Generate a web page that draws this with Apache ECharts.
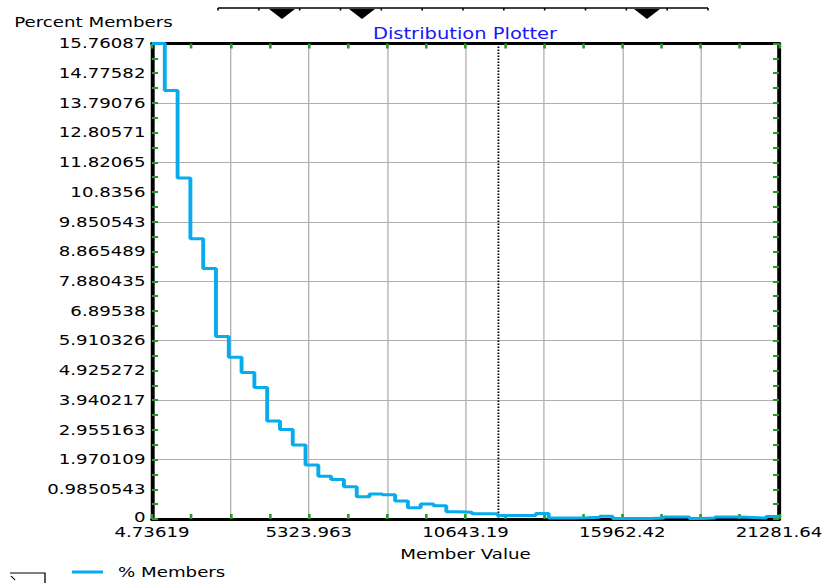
<!DOCTYPE html>
<html><head><meta charset="utf-8">
<script src="https://cdn.jsdelivr.net/npm/echarts@6/dist/echarts.min.js"></script>
<style>
html,body{margin:0;padding:0;background:#fff;overflow:hidden;}
#wrap{width:824px;height:583px;overflow:hidden;position:relative;}
#chart{width:634px;height:583px;transform:scaleX(1.29968);transform-origin:0 0;}
</style></head><body><div id="wrap"><div id="chart"></div></div>
<script>
// ---- data ----
const xTickLabels = ['4.73619', '5323.963', '10643.19', '15962.42', '21281.64'];
const yTickLabels = ['0', '0.9850543', '1.970109', '2.955163', '3.940217', '4.925272', '5.910326',
  '6.89538', '7.880435', '8.865489', '9.850543', '10.8356', '11.82065', '12.80571', '13.79076',
  '14.77582', '15.76087'];
// percent of members per bin (49 equal-width bins between xMin and xMax)
const binValues = [15.76087, 14.2, 11.3, 9.29, 8.3, 6.05, 5.36, 4.86, 4.36, 3.25,
  2.97, 2.45, 1.79, 1.42, 1.31, 1.07, 0.74, 0.83, 0.80, 0.60,
  0.37, 0.50, 0.44, 0.24, 0.22, 0.17, 0.17, 0.12, 0.12, 0.12,
  0.18, 0.03, 0.03, 0.04, 0.06, 0.09, 0.02, 0.02, 0.02, 0.03,
  0.07, 0.07, 0.02, 0.03, 0.07, 0.07, 0.05, 0.03, 0.08];
const xMin = 4.73619, xMax = 21281.64, yMax = 15.76087;
const markerX = 11728;               // dotted vertical marker
const seriesName = '% Members';
const titleText = 'Distribution Plotter';
const xName = 'Member Value';
const yName = 'Percent Members';

// ---- layout helpers ----
const S = 824 / 634;                 // horizontal stretch of the whole picture
const X = v => v / S;                // reference px -> chart px
const FONT = 'DejaVu Sans';
const GREEN = '#2a9a2a', GRAY = '#afafaf', BLUE = '#08aceb', INK = '#000';

const xRange = xMax - xMin;
const xStep = xRange / (xTickLabels.length - 1);
const yStep = yMax / (yTickLabels.length - 1);
const binW = xRange / binValues.length;

const points = binValues.map((v, i) => [i * binW, v]);
points.push([xRange, binValues[binValues.length - 1]]);

const baseAxis = {type: 'value', min: 0, axisLine: {show: false, onZero: false}, axisTick: {show: false},
  axisLabel: {show: false}, splitLine: {show: false}};
function ax(extra) { return Object.assign({}, JSON.parse(JSON.stringify(baseAxis)), extra); }

const tickStyle = {color: GREEN, width: 2};
const xAxes = [
  ax({position: 'bottom', max: xRange, interval: xStep,
    axisLine: {show: true, onZero: false, lineStyle: {color: '#000', width: 3}},
    axisLabel: {show: true, margin: 7, fontSize: 14, lineHeight: 12, fontFamily: FONT, color: INK,
      showMinLabel: true, showMaxLabel: true,
      formatter: v => xTickLabels[Math.round(v / xStep)] || ''},
    name: xName, nameLocation: 'middle', nameGap: 28,
    nameTextStyle: {fontSize: 14, lineHeight: 14, fontFamily: FONT, color: INK}}),
  ax({position: 'bottom', max: xRange, interval: xStep / 4,
    axisTick: {show: true, inside: true, length: 5, lineStyle: tickStyle}}),
  ax({position: 'top', max: xRange, interval: xStep / 4,
    axisLine: {show: true, onZero: false, lineStyle: {color: '#000', width: 3}},
    axisTick: {show: true, inside: true, length: 5, lineStyle: tickStyle}}),
  ax({position: 'bottom', max: xRange, interval: xStep / 2,
    splitLine: {show: true, lineStyle: {color: GRAY, width: 1}}})
];
const yAxes = [
  ax({position: 'left', max: yMax, interval: yStep,
    axisLine: {show: true, onZero: false, lineStyle: {color: '#000', width: 3}},
    axisLabel: {show: true, margin: 5, fontSize: 14, lineHeight: 12, fontFamily: FONT, color: INK,
      showMinLabel: true, showMaxLabel: true,
      formatter: v => {
        const i = Math.round(v / yStep);
        const t = yTickLabels[i] || '';
        return i === 0 ? '{low|' + t + '}' : t;
      },
      rich: {low: {fontSize: 14, lineHeight: 12, fontFamily: FONT, color: INK, padding: [0, 0, 4, 0]}}},
    name: yName, nameLocation: 'end', nameGap: 14,
    nameTextStyle: {fontSize: 14, fontFamily: FONT, color: INK, align: 'center',
      padding: [0, 2 * (X(152) - X(93.5)), 0, 0]}}),
  ax({position: 'left', max: yMax, interval: yStep / 2,
    axisTick: {show: true, inside: true, length: X(6), lineStyle: tickStyle}}),
  ax({position: 'right', max: yMax, interval: yStep / 2,
    axisLine: {show: true, onZero: false, lineStyle: {color: '#000', width: 3}},
    axisTick: {show: true, inside: true, length: X(6), lineStyle: tickStyle}}),
  ax({position: 'left', max: yMax, interval: yStep * 2,
    splitLine: {show: true, lineStyle: {color: GRAY, width: 1}}})
];

// decorative slider strip at the top and the clipped widget bottom-left
const graphics = [
  {type: 'line', shape: {x1: X(218), y1: 8, x2: X(708), y2: 8}, style: {stroke: '#000', lineWidth: 1.5}, silent: true}
];
for (let k = 0; k <= 12; k++) {
  const gx = X(218 + k * (708 - 218) / 12);
  graphics.push({type: 'line', shape: {x1: gx, y1: 8, x2: gx, y2: 10.5}, style: {stroke: '#000', lineWidth: 1.2}, silent: true});
}
[282, 362, 647].forEach(cx => {
  graphics.push({type: 'polygon', shape: {points: [[X(cx - 13), 9], [X(cx + 13), 9], [X(cx), 19]]},
    style: {fill: '#000'}, silent: true});
});
graphics.push({type: 'polyline', shape: {points: [[X(10), 573], [X(45), 573], [X(45), 590]]},
  style: {stroke: '#000', lineWidth: 1, fill: null}, silent: true});
graphics.push({type: 'line', shape: {x1: X(11), y1: 576, x2: X(15), y2: 580},
  style: {stroke: '#000', lineWidth: 1}, silent: true});

const chart = echarts.init(document.getElementById('chart'), null, {renderer: 'svg'});
chart.setOption({
  animation: false,
  backgroundColor: '#fff',
  color: [BLUE],
  title: {text: titleText, left: X(465), top: 26, textAlign: 'center', padding: 0,
    textStyle: {color: '#1717f5', fontSize: 15, fontWeight: 'normal', fontFamily: FONT}},
  grid: {left: X(152), top: 43.5, width: X(779) - X(152), height: 475.5, outerBoundsMode: 'none'},
  legend: {show: true, left: X(72), top: 565, padding: 0, icon: 'rect',
    itemWidth: X(103) - X(72), itemHeight: 3,
    textStyle: {fontSize: 14, fontFamily: FONT, color: INK, padding: [0, 0, 0, X(118) - X(103) - 5]},
    data: [seriesName]},
  xAxis: xAxes,
  yAxis: yAxes,
  graphic: graphics,
  series: [{
    type: 'line', name: seriesName, xAxisIndex: 0, yAxisIndex: 0, step: 'end',
    showSymbol: false, symbol: 'none', z: 5,
    lineStyle: {color: BLUE, width: 3}, itemStyle: {color: BLUE},
    data: points,
    markLine: {silent: true, symbol: 'none', label: {show: false},
      lineStyle: {color: '#000', type: [1.5, 1.5], width: 1.4},
      data: [{xAxis: markerX - xMin}]}
  }]
});
</script></body></html>
